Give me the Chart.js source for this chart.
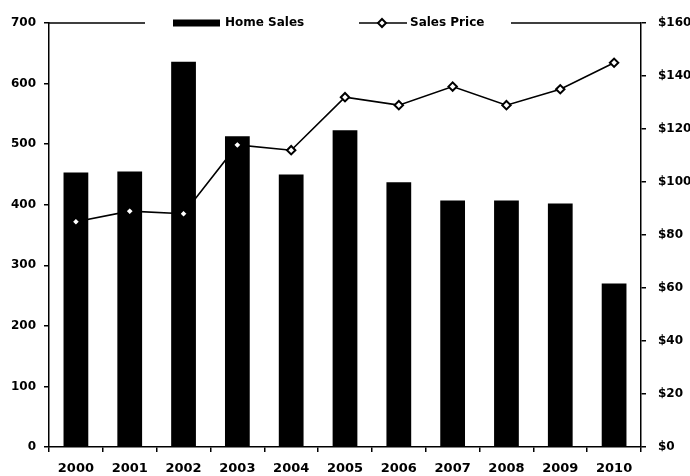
<!DOCTYPE html>
<html><head><meta charset="utf-8">
<script src="https://cdn.jsdelivr.net/npm/chart.js@4"></script>
<style>html,body{margin:0;padding:0;background:#fff}</style>
</head><body>
<canvas id="c" width="690" height="476"></canvas>
<script>
const years = ['2000','2001','2002','2003','2004','2005','2006','2007','2008','2009','2010'];
const homeSales = [453, 455, 636, 513, 450, 523, 437, 407, 407, 402, 270];
const salesPrice = [85, 89, 88, 114, 112, 132, 129, 136, 129, 135, 145];
const seriesNames = ['Home Sales', 'Sales Price'];
const leftAxis = {min: 0, max: 700, step: 100};
const rightAxis = {min: 0, max: 160, step: 20, prefix: '$'};

const FONT = '"DejaVu Sans", "Liberation Sans", Arial, sans-serif';
Chart.defaults.font.family = FONT;
Chart.defaults.color = '#000';

const legendPlugin = {
  id: 'topLegend',
  afterDraw(chart) {
    const ctx = chart.ctx, a = chart.chartArea;
    const y = a.top;
    ctx.save();
    ctx.strokeStyle = '#000';
    ctx.lineWidth = 1.5;
    ctx.beginPath();
    ctx.moveTo(a.left, y); ctx.lineTo(a.left + 96, y);
    ctx.moveTo(a.left + 462, y); ctx.lineTo(a.right, y);
    ctx.stroke();
    ctx.font = 'bold 12px ' + FONT;
    ctx.textBaseline = 'middle';
    ctx.fillStyle = '#000';
    // Home Sales swatch
    let x = a.left + 124;
    ctx.fillRect(x, y - 3.5, 47, 7);
    ctx.fillText(chart.data.datasets[0].label, x + 52, y);
    // Sales Price swatch
    x = a.left + 310;
    ctx.lineWidth = 1.3;
    ctx.beginPath(); ctx.moveTo(x, y); ctx.lineTo(x + 48, y); ctx.stroke();
    const cx = x + 23, r = 4;
    ctx.beginPath();
    ctx.moveTo(cx, y - r); ctx.lineTo(cx + r, y); ctx.lineTo(cx, y + r); ctx.lineTo(cx - r, y); ctx.closePath();
    ctx.fillStyle = '#fff'; ctx.fill();
    ctx.lineWidth = 2; ctx.stroke();
    ctx.fillStyle = '#000';
    ctx.fillText(chart.data.datasets[1].label, x + 51, y);
    ctx.restore();
  }
};

new Chart(document.getElementById('c'), {
  data: {
    labels: years,
    datasets: [
      {
        type: 'bar', label: seriesNames[0], data: homeSales, yAxisID: 'y', order: 1,
        backgroundColor: '#000', borderWidth: 0,
        barPercentage: 0.46, categoryPercentage: 1.0
      },
      {
        type: 'line', label: seriesNames[1], data: salesPrice, yAxisID: 'y1', order: 0,
        borderColor: '#000', borderWidth: 1.6, tension: 0,
        pointStyle: 'rectRot', pointRadius: 4.2, pointBackgroundColor: '#fff',
        pointBorderColor: '#000', pointBorderWidth: 2
      }
    ]
  },
  options: {
    responsive: false,
    animation: false,
    devicePixelRatio: 1,
    layout: {padding: {top: 23, left: 0, right: 0, bottom: 0}},
    plugins: {legend: {display: false}, tooltip: {enabled: false}},
    scales: {
      x: {
        type: 'category', offset: true,
        grid: {display: true, offset: true, drawOnChartArea: false, drawTicks: true, tickLength: 5, color: '#000', lineWidth: 1.5},
        border: {display: true, color: '#000', width: 1.5},
        ticks: {font: {size: 13, weight: 'bold'}, color: '#000', padding: 9, maxRotation: 0, autoSkip: false},
        afterFit: s => { s.height = 29; }
      },
      y: {
        position: 'left', min: leftAxis.min, max: leftAxis.max,
        grid: {display: true, drawOnChartArea: false, drawTicks: true, tickLength: 5, color: '#000', lineWidth: 1.5},
        border: {display: true, color: '#000', width: 1.5},
        ticks: {stepSize: leftAxis.step, font: {size: 12, weight: 'bold'}, color: '#000', padding: 8},
        afterFit: s => { s.width = 49; }
      },
      y1: {
        position: 'right', min: rightAxis.min, max: rightAxis.max,
        grid: {display: true, drawOnChartArea: false, drawTicks: true, tickLength: 5, color: '#000', lineWidth: 1.5},
        border: {display: true, color: '#000', width: 1.5},
        ticks: {stepSize: rightAxis.step, font: {size: 12, weight: 'bold'}, color: '#000', padding: 12,
                callback: v => rightAxis.prefix + v},
        afterFit: s => { s.width = 49; }
      }
    }
  },
  plugins: [legendPlugin]
});
</script>
</body></html>
